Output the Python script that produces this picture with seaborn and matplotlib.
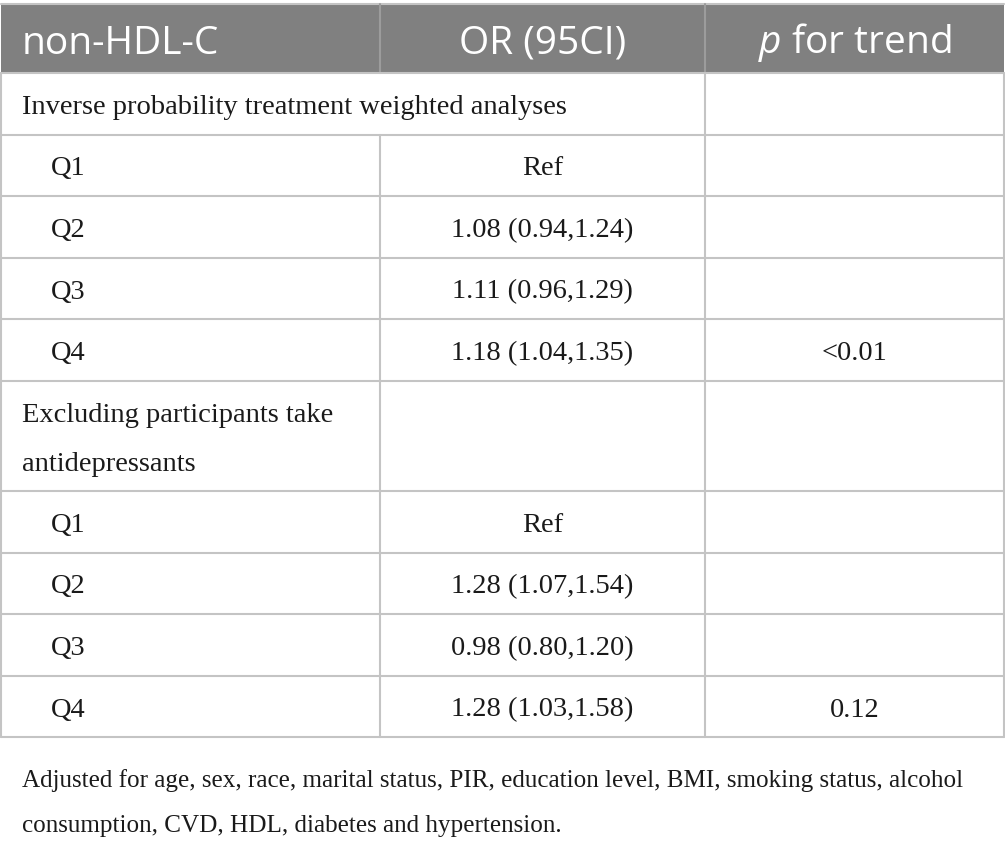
import matplotlib.pyplot as plt
import seaborn as sns

# table content
col_headers = ['non-HDL-C', 'OR (95CI)', r'$\it{p}$ for trend']
section_titles = ['Inverse probability treatment weighted analyses',
                  'Excluding participants take\nantidepressants']
quartiles = ['Q1', 'Q2', 'Q3', 'Q4']
or_iptw = ['Ref', '1.08 (0.94,1.24)', '1.11 (0.96,1.29)', '1.18 (1.04,1.35)']
p_iptw = ['', '', '', '<0.01']
or_excl = ['Ref', '1.28 (1.07,1.54)', '0.98 (0.80,1.20)', '1.28 (1.03,1.58)']
p_excl = ['', '', '', '0.12']
footnote = ('Adjusted for age, sex, race, marital status, PIR, education level, BMI, smoking status, alcohol\n'
            'consumption, CVD, HDL, diabetes and hypertension.')

sns.set_theme(style='white')
plt.rcParams['mathtext.fontset'] = 'custom'
plt.rcParams['mathtext.it'] = 'Open Sans:italic'
plt.rcParams['mathtext.rm'] = 'Open Sans'

W, H = 1005, 851
fig = plt.figure(figsize=(W / 100, H / 100), dpi=100)
ax = fig.add_axes([0, 0, 1, 1])
ax.set_xlim(0, W)
ax.set_ylim(H, 0)
ax.axis('off')

grid = '#c4c4c4'
head_bg = '#808080'
ink = '#1a1a1a'
serif = 'Liberation Serif'
sans = 'Open Sans'
body_fs = 20.5
foot_fs = 18.1
head_fs = 28

x0, x1, x2, x3 = 0.5, 380, 705, 1004
top, head_h, row_h, tall_h = 4, 69, 61.6, 110

# header
ax.add_patch(plt.Rectangle((x0, top), x3 - x0, head_h, color=head_bg, lw=0))
ax.plot([x0, x3], [top, top], color=grid, lw=1.5)
for xv in (x1, x2):
    ax.plot([xv, xv], [top, top + head_h], color='#9c9c9c', lw=1.5)
hy = top + head_h / 2 + 15
hkw = dict(color='white', fontsize=head_fs, family=sans, va='baseline')
ax.text(22, hy, col_headers[0], **hkw)
ax.text((x1 + x2) / 2, hy, col_headers[1], ha='center', **hkw)
ax.text((x2 + x3) / 2, hy, col_headers[2], ha='center', **hkw)

# body rows: (label, or, p, height, is_section, spans two columns)
rows = [(section_titles[0], '', '', row_h, True, True)]
rows += [(q, o, p, row_h, False, False) for q, o, p in zip(quartiles, or_iptw, p_iptw)]
rows += [(section_titles[1], '', '', tall_h, True, False)]
rows += [(q, o, p, row_h, False, False) for q, o, p in zip(quartiles, or_excl, p_excl)]

bkw = dict(fontsize=body_fs, family=serif, color=ink, va='baseline')
y = top + head_h
ax.plot([x0, x3], [y, y], color=grid, lw=1.5)
for label, orv, pv, h, is_sec, spans in rows:
    yb = y + h
    ax.plot([x0, x3], [yb, yb], color=grid, lw=1.5)
    for xv in (x0, x2, x3):
        ax.plot([xv, xv], [y, yb], color=grid, lw=1.5)
    if not spans:
        ax.plot([x1, x1], [y, yb], color=grid, lw=1.5)
    ty = y + h / 2 + 10
    if is_sec:
        lines = label.split('\n')
        base = ty - (len(lines) - 1) * 49 / 2
        for i, ln in enumerate(lines):
            ax.text(22, base + i * 49, ln, **bkw)
    else:
        ax.text(51, ty, label, **bkw)
    ax.text((x1 + x2) / 2, ty, orv, ha='center', **bkw)
    ax.text((x2 + x3) / 2, ty, pv, ha='center', **bkw)
    y = yb

# footnote
for i, ln in enumerate(footnote.split('\n')):
    ax.text(22, 787 + i * 45, ln, fontsize=foot_fs, family=serif, color=ink, va='baseline')

fig.savefig('out.png', dpi=100)
